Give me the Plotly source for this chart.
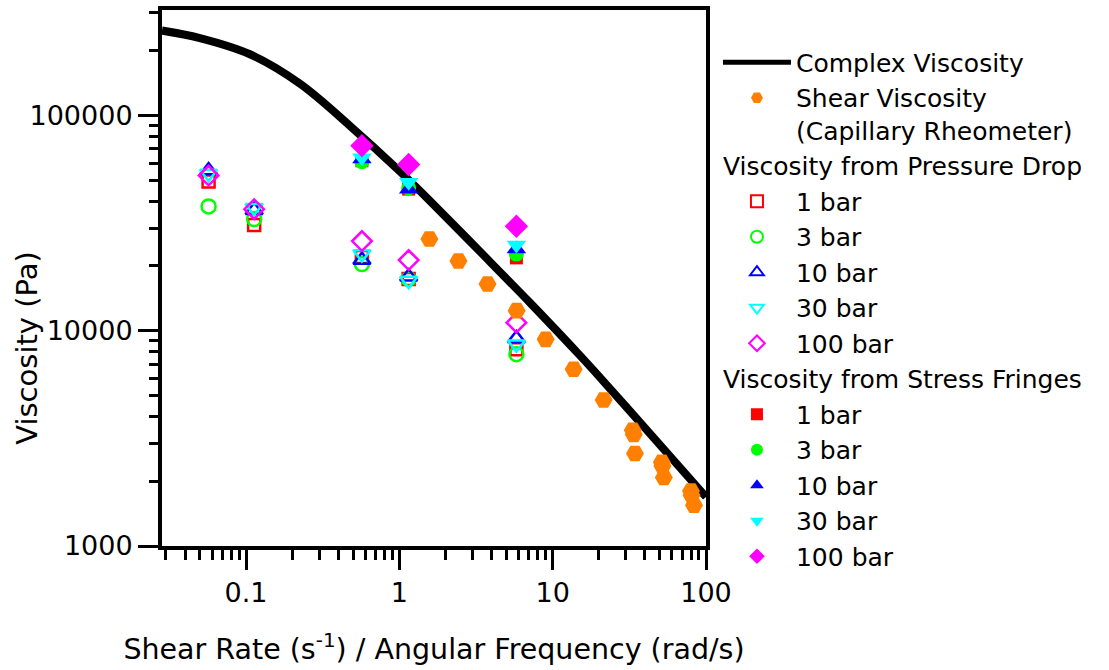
import plotly.graph_objects as go

# complex viscosity (rheometer)
cv_x = [0.0283, 0.05, 0.106, 0.225, 0.479, 1.016, 1.6, 3.38, 7.18, 15.2, 20.6, 43.7, 70, 100]
cv_y = [248000, 228800, 192500, 140400, 89200, 54700, 39800, 23200, 13400, 7620, 6010, 3290, 2250, 1690]

# shear viscosity from capillary rheometer
sv_x = [1.57, 2.43, 3.76, 5.82, 9.0, 13.7, 21.5, 33.3, 33.8, 34.4, 51.5, 52, 53.1, 79.8, 80.5, 83.5]
sv_y = [26700, 21100, 16500, 12400, 9120, 6620, 4770, 3450, 3300, 2690, 2450, 2350, 2080, 1800, 1720, 1545]

# viscosity from pressure drop (open symbols)
pd_x = [0.057, 0.113, 0.57, 1.15, 5.8]
pd_1 = [49400, 31000, 22000, 17400, 8200]
pd_3 = [37800, 33000, 20400, 17400, 7780]
pd_10 = [55500, 36300, 21300, 17800, 9210]
pd_30 = [53700, 37300, 22700, 17100, 8650]
pd_100 = [52600, 36700, 26100, 21300, 10900]

# viscosity from stress fringes (filled symbols)
sf_x = [0.57, 1.15, 5.8]
sf_1 = [61600, 45500, 21800]
sf_3 = [61000, 46000, 22700]
sf_10 = [62800, 45400, 24000]
sf_30 = [63700, 48900, 25000]
sf_100 = [72400, 59200, 30600]

labels = ["1 bar", "3 bar", "10 bar", "30 bar", "100 bar"]
colors = ["#FF0000", "#00FF00", "#0000FF", "#00FFFF", "#FF00FF"]
open_sym = ["square-open", "circle-open", "triangle-up-open", "triangle-down-open", "diamond-open"]
fill_sym = ["square", "circle", "triangle-up", "triangle-down", "diamond"]
open_size = [12, 14, 15, 15, 15]
fill_size = [13, 15, 17, 17, 18]

# tick positions
x_major = [0.1, 1, 10, 100]
y_major = [1000, 10000, 100000]
x_minor = [m * d for d in [0.01, 0.1, 1, 10] for m in range(2, 10) if m * d >= 0.03]
y_minor = [m * d for d in [1000, 10000, 100000] for m in range(2, 10) if m * d <= 300000]

FONT = "DejaVu Sans, Arial, sans-serif"

fig = go.Figure()
fig.add_trace(go.Scatter(x=cv_x, y=cv_y, mode="lines", name="Complex Viscosity",
                         line=dict(color="black", width=8, shape="spline", smoothing=1),
                         legendrank=1))

for i, ys in enumerate([pd_1, pd_3, pd_10, pd_30, pd_100]):
    fig.add_trace(go.Scatter(
        x=pd_x, y=ys, mode="markers", name=labels[i],
        legendgroup="pd", legendgrouptitle_text="Viscosity from Pressure Drop",
        marker=dict(symbol=open_sym[i], size=open_size[i], color=colors[i],
                    line=dict(width=2.5, color=colors[i])),
        legendrank=10 + i))

fig.add_trace(go.Scatter(x=sv_x, y=sv_y, mode="markers",
                         name="Shear Viscosity<br>(Capillary Rheometer)",
                         marker=dict(symbol="hexagon2", size=18, color="#FF8000"),
                         legendrank=2))

for i, ys in enumerate([sf_1, sf_3, sf_10, sf_30, sf_100]):
    fig.add_trace(go.Scatter(
        x=sf_x, y=ys, mode="markers", name=labels[i],
        legendgroup="sf", legendgrouptitle_text="Viscosity from Stress Fringes",
        marker=dict(symbol=fill_sym[i], size=fill_size[i], color=colors[i]),
        legendrank=20 + i))

axis_common = dict(
    type="log", showline=True, linewidth=4, linecolor="black", mirror=True,
    showgrid=False, zeroline=False, ticks="outside", ticklen=20, tickwidth=3,
    tickcolor="black", tickfont=dict(size=27, color="black", family=FONT),
)

fig.update_xaxes(range=[-1.548, 2.0], tickmode="array", tickvals=x_major,
                 ticktext=[str(v) for v in x_major],
                 minor=dict(tickmode="array", tickvals=x_minor, ticks="outside", ticklen=10,
                            tickwidth=3, tickcolor="black", showgrid=False),
                 title=dict(text="Shear Rate (s<sup>-1</sup>) / Angular Frequency (rad/s)",
                            font=dict(size=28.5, color="black", family=FONT), standoff=33),
                 **axis_common)
fig.update_yaxes(range=[3.0, 5.49], tickmode="array", tickvals=y_major,
                 ticktext=[str(v) for v in y_major],
                 minor=dict(tickmode="array", tickvals=y_minor, ticks="outside", ticklen=9,
                            tickwidth=3, tickcolor="black", showgrid=False),
                 **axis_common)

fig.add_annotation(text="Viscosity (Pa)", textangle=-90, xref="paper", yref="paper",
                   x=-0.248, y=0.37, showarrow=False, xanchor="center", yanchor="middle",
                   font=dict(size=29, color="black", family=FONT))

fig.update_layout(
    width=1109, height=670,
    margin=dict(l=162, r=403, t=6, b=124),
    plot_bgcolor="white", paper_bgcolor="white",
    font=dict(family=FONT, color="black", size=25),
    legend=dict(x=1.022, y=0.945, xanchor="left", yanchor="top",
                font=dict(size=25, family=FONT, color="black"),
                grouptitlefont=dict(size=25, family=FONT, color="black"),
                itemsizing="constant", itemwidth=68, tracegroupgap=0,
                valign="top", maxheight=660, bgcolor="rgba(0,0,0,0)"),
)

fig.write_html("out.html", config={"displayModeBar": False},
               post_script="document.body.style.margin='0px';")
